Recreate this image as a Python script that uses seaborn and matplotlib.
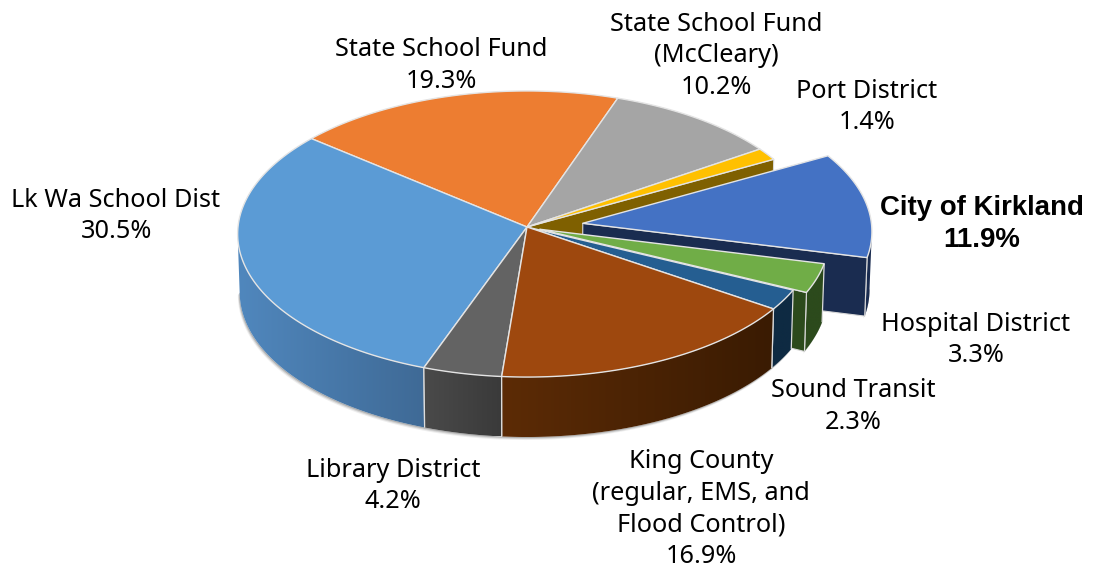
import itertools
import numpy as np
import matplotlib
matplotlib.use("Agg")
import matplotlib.pyplot as plt
from matplotlib.colors import to_rgb
from matplotlib.patches import Polygon
import seaborn as sns

# ---- data (clockwise, starting from the State School Fund / Lk Wa boundary)
labels = ["State School Fund", "State School Fund\n(McCleary)", "Port District",
          "City of Kirkland", "Hospital District", "Sound Transit",
          "King County\n(regular, EMS, and\nFlood Control)", "Library District",
          "Lk Wa School Dist"]
shares = [19.3, 10.2, 1.4, 11.9, 3.3, 2.3, 16.9, 4.2, 30.5]
explode = [0, 0, 0, 0.195, 0.047, 0, 0, 0, 0]
top_colors = ["#ED7D31", "#A5A5A5", "#FFC000", "#4472C4", "#70AD47",
              "#255E91", "#9E480E", "#636363", "#5B9BD5"]
wall_left = ["#8E4B1D", "#636363", "#7F6000", "#1A2C50", "#2C4A1C",
             "#0E2A42", "#5C2B06", "#4A4A4A", "#5087BD"]
wall_right = ["#8E4B1D", "#636363", "#7F6000", "#1A2C50", "#2C4A1C",
              "#0E2A42", "#3A1B02", "#3A3A3A", "#3F6A96"]
label_x = [441, 716, 867, 982, 976, 853, 701, 393, 116]
label_y = [65.5, 56, 107, 224, 340, 406.5, 509, 486, 216]

START_ANGLE = 140.3
CX, CY, RX, RY, K, DEPTH, SHRINK = 527, 227, 289, 142.7, 0.049, 58.5, 0.007
FONT = "Noto Sans"
FONT_SIZE = 18.2

sns.set_theme(style="white")
plt.rcParams["font.family"] = [FONT, "DejaVu Sans"]
palette = sns.color_palette(top_colors)

fig = plt.figure(figsize=(10.93, 5.71), dpi=100)
ax = fig.add_axes([0, 0, 1, 1])
order = itertools.count(1)


def project(u, v, z=0.0):
    d = 1 + K * v + SHRINK * z
    return CX + RX * u / d, CY + (-RY * v + DEPTH * z) / d


sweeps = np.array(shares) * 3.6
ends = START_ANGLE - np.cumsum(sweeps)
starts = ends + sweeps
slices = []
for i in range(len(shares)):
    mid = np.radians((starts[i] + ends[i]) / 2)
    du, dv = explode[i] * np.cos(mid), explode[i] * np.sin(mid)
    t = np.radians(np.linspace(starts[i], ends[i], max(int(sweeps[i]) * 4, 16)))
    slices.append((du, dv, np.cos(t) + du, np.sin(t) + dv))


def draw_top(i):
    du, dv, u, v = slices[i]
    x, y = project(np.r_[du, u], np.r_[dv, v])
    ax.fill(x, y, facecolor=palette[i], edgecolor="#E4E4E4", lw=1.0,
            joinstyle="round", zorder=next(order))


def draw_cut(i):
    # flat wall along the clockwise cut of slice i
    du, dv, u, v = slices[i]
    x0, y0 = project(np.array([du, u[-1]]), np.array([dv, v[-1]]))
    x1, y1 = project(np.array([u[-1], du]), np.array([v[-1], dv]), 1.0)
    ax.fill(np.r_[x0, x1], np.r_[y0, y1], facecolor=wall_left[i], edgecolor="#D8D8D8",
            lw=0.8, zorder=next(order))


def front_part(i):
    du, dv, u, v = slices[i]
    keep = (v - dv) <= -K
    return u[keep], v[keep], keep


def draw_arc(i):
    u, v, keep = front_part(i)
    xt, yt = project(u, v)
    xb, yb = project(u, v, 1.0)
    c0, c1 = np.array(to_rgb(wall_left[i])), np.array(to_rgb(wall_right[i]))
    xs = np.r_[xt, xb[::-1]]
    ys = np.r_[yt, yb[::-1]]
    lo, hi = xs.min(), xs.max()
    grad = np.linspace(c0, c1, 64)[np.newaxis, :, :]
    im = ax.imshow(grad, extent=(lo, hi, ys.max(), ys.min()), aspect="auto",
                   interpolation="bilinear", zorder=next(order))
    im.set_clip_path(Polygon(np.c_[xs, ys], closed=True, transform=ax.transData))
    # light seams only where a wall meets a neighbouring slice
    for j in (0, -1):
        if keep[j]:
            ax.plot([xt[j], xb[j]], [yt[j], yb[j]], color="#DDDDDD", lw=0.9,
                    solid_capstyle="butt", zorder=next(order))


def draw_shadow(i):
    u, v, keep = front_part(i)
    xb, yb = project(u, v, 1.0)
    for off, a in ((3.0, 0.10), (2.0, 0.18), (1.0, 0.28)):
        ax.fill(np.r_[xb - off * 0.6, xb[::-1]], np.r_[yb + off, yb[::-1]],
                color="#555555", alpha=a, lw=0, zorder=next(order))


# shadows underneath every front-facing wall
for i in (3, 4, 5, 6, 7, 8):
    draw_shadow(i)

# back slices
draw_cut(2)
draw_top(0)
draw_top(1)
draw_top(2)

# exploded slices, back to front
draw_arc(3)
draw_cut(3)
draw_top(3)
draw_arc(4)
draw_cut(4)
draw_top(4)

# remaining front slices
for i in (5, 8, 7, 6):
    draw_arc(i)
for i in (5, 8, 7, 6):
    draw_top(i)

# labels
for i, (name, s) in enumerate(zip(labels, shares)):
    bold = name == "City of Kirkland"
    ax.text(label_x[i], label_y[i], f"{name}\n{s:.1f}%", ha="center", va="center",
            fontsize=19.9 if bold else FONT_SIZE, color="black",
            linespacing=1.29 if bold else 1.36,
            family=["Liberation Sans", "DejaVu Sans"] if bold else [FONT, "DejaVu Sans"],
            fontweight="bold" if bold else "normal", zorder=next(order))

ax.set_xlim(0, 1093)
ax.set_ylim(571, 0)
ax.axis("off")
fig.savefig("out.png", dpi=100)
